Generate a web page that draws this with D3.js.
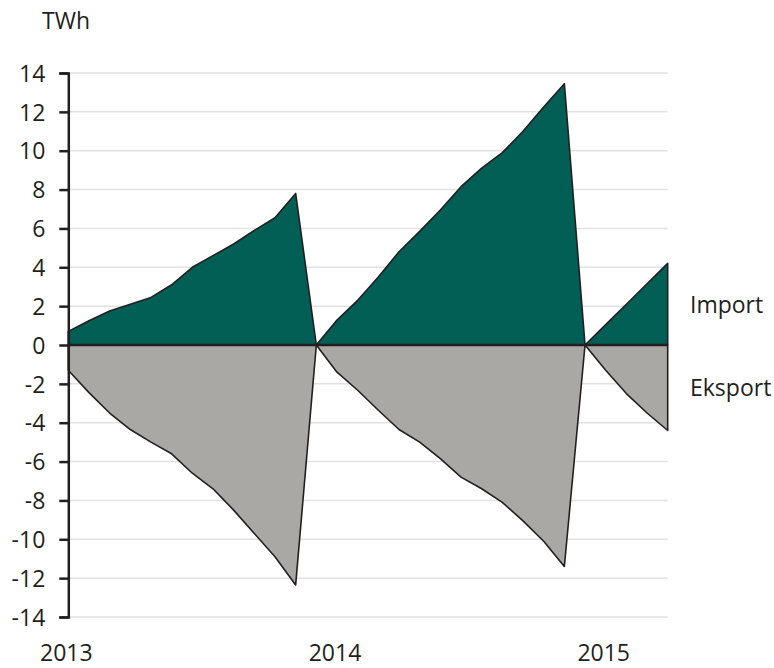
<!DOCTYPE html>
<html>
<head>
<meta charset="utf-8">
<script src="https://cdn.jsdelivr.net/npm/d3@7"></script>
<style>
  body { margin: 0; background: #fff; }
  text { font-family: "Open Sans", sans-serif; fill: #231f20; }
</style>
</head>
<body>
<div id="chart"></div>
<script>
// periods: monthly cumulative values, with a reset point (0) between years
const periods = [
  "jan13","feb13","mar13","apr13","mai13","jun13","jul13","aug13","sep13","okt13","nov13","des13","start14",
  "jan14","feb14","mar14","apr14","mai14","jun14","jul14","aug14","sep14","okt14","nov14","des14","start15",
  "jan15","feb15","mar15","apr15"
];
const importTWh = [
  0.7, 1.25, 1.75, 2.1, 2.45, 3.1, 4.0, 4.6, 5.2, 5.9, 6.55, 7.8, 0,
  1.28, 2.3, 3.5, 4.8, 5.85, 6.95, 8.15, 9.1, 9.9, 11.0, 12.25, 13.45, 0,
  1.05, 2.1, 3.15, 4.2
];
const eksportTWh = [
  -1.3, -2.45, -3.5, -4.35, -5.0, -5.6, -6.6, -7.4, -8.5, -9.7, -10.9, -12.35, 0,
  -1.4, -2.33, -3.36, -4.35, -5.0, -5.85, -6.8, -7.4, -8.1, -9.05, -10.1, -11.4, 0,
  -1.3, -2.5, -3.5, -4.4
];
const yTicks = [14, 12, 10, 8, 6, 4, 2, 0, -2, -4, -6, -8, -10, -12, -14];
const yearLabels = ["2013", "2014", "2015"];
const yearAt = ["jan13", "jan14", "jan15"];

const width = 774, height = 668;
const margin = {top: 73, left: 68.3, right: 106.3, bottom: 51};

const svg = d3.select("#chart").append("svg")
  .attr("width", width)
  .attr("height", height);

const x = d3.scalePoint()
  .domain(periods)
  .range([margin.left, width - margin.right]);

const y = d3.scaleLinear()
  .domain([-14, 14])
  .range([height - margin.bottom, margin.top]);

// gridlines
svg.append("g")
  .selectAll("line")
  .data(yTicks.filter(d => d !== 0))
  .join("line")
  .attr("x1", margin.left)
  .attr("x2", width - margin.right)
  .attr("y1", d => y(d))
  .attr("y2", d => y(d))
  .attr("stroke", "#e2e2e2")
  .attr("stroke-width", 1.5);

const area = d3.area()
  .x((d, i) => x(periods[i]))
  .y0(y(0))
  .y1(d => y(d));

svg.append("path")
  .datum(importTWh)
  .attr("d", area)
  .attr("fill", "#015f56")
  .attr("stroke", "#231f20")
  .attr("stroke-width", 1.6)
  .attr("stroke-linejoin", "round");

svg.append("path")
  .datum(eksportTWh)
  .attr("d", area)
  .attr("fill", "#a9a8a4")
  .attr("stroke", "#231f20")
  .attr("stroke-width", 1.6)
  .attr("stroke-linejoin", "round");

// zero line
svg.append("line")
  .attr("x1", margin.left)
  .attr("x2", width - margin.right)
  .attr("y1", y(0))
  .attr("y2", y(0))
  .attr("stroke", "#231f20")
  .attr("stroke-width", 2.5);

// y axis
const yAxis = svg.append("g")
  .attr("transform", `translate(${margin.left},0)`)
  .call(d3.axisLeft(y).tickValues(yTicks).tickFormat(d => String(d)).tickSize(9).tickPadding(14));

yAxis.select(".domain")
  .attr("stroke", "#231f20")
  .attr("stroke-width", 2.5);
yAxis.selectAll(".tick line")
  .attr("stroke", "#231f20")
  .attr("stroke-width", 2.5);
yAxis.selectAll(".tick text")
  .style("font-family", "'Open Sans', sans-serif")
  .style("font-size", "23px")
  .attr("fill", "#231f20")
  .attr("dy", "0.36em");

// year labels
svg.append("g")
  .selectAll("text")
  .data(yearLabels)
  .join("text")
  .attr("x", (d, i) => x(yearAt[i]) - 2)
  .attr("y", 661)
  .attr("text-anchor", "middle")
  .style("font-size", "23px")
  .text(d => d);

// unit
svg.append("text")
  .attr("x", 42)
  .attr("y", 29)
  .style("font-size", "23px")
  .text("TWh");

// legend
svg.append("text")
  .attr("x", 690)
  .attr("y", 313)
  .style("font-size", "23px")
  .text("Import");

svg.append("text")
  .attr("x", 690)
  .attr("y", 396)
  .style("font-size", "23px")
  .text("Eksport");
</script>
</body>
</html>
